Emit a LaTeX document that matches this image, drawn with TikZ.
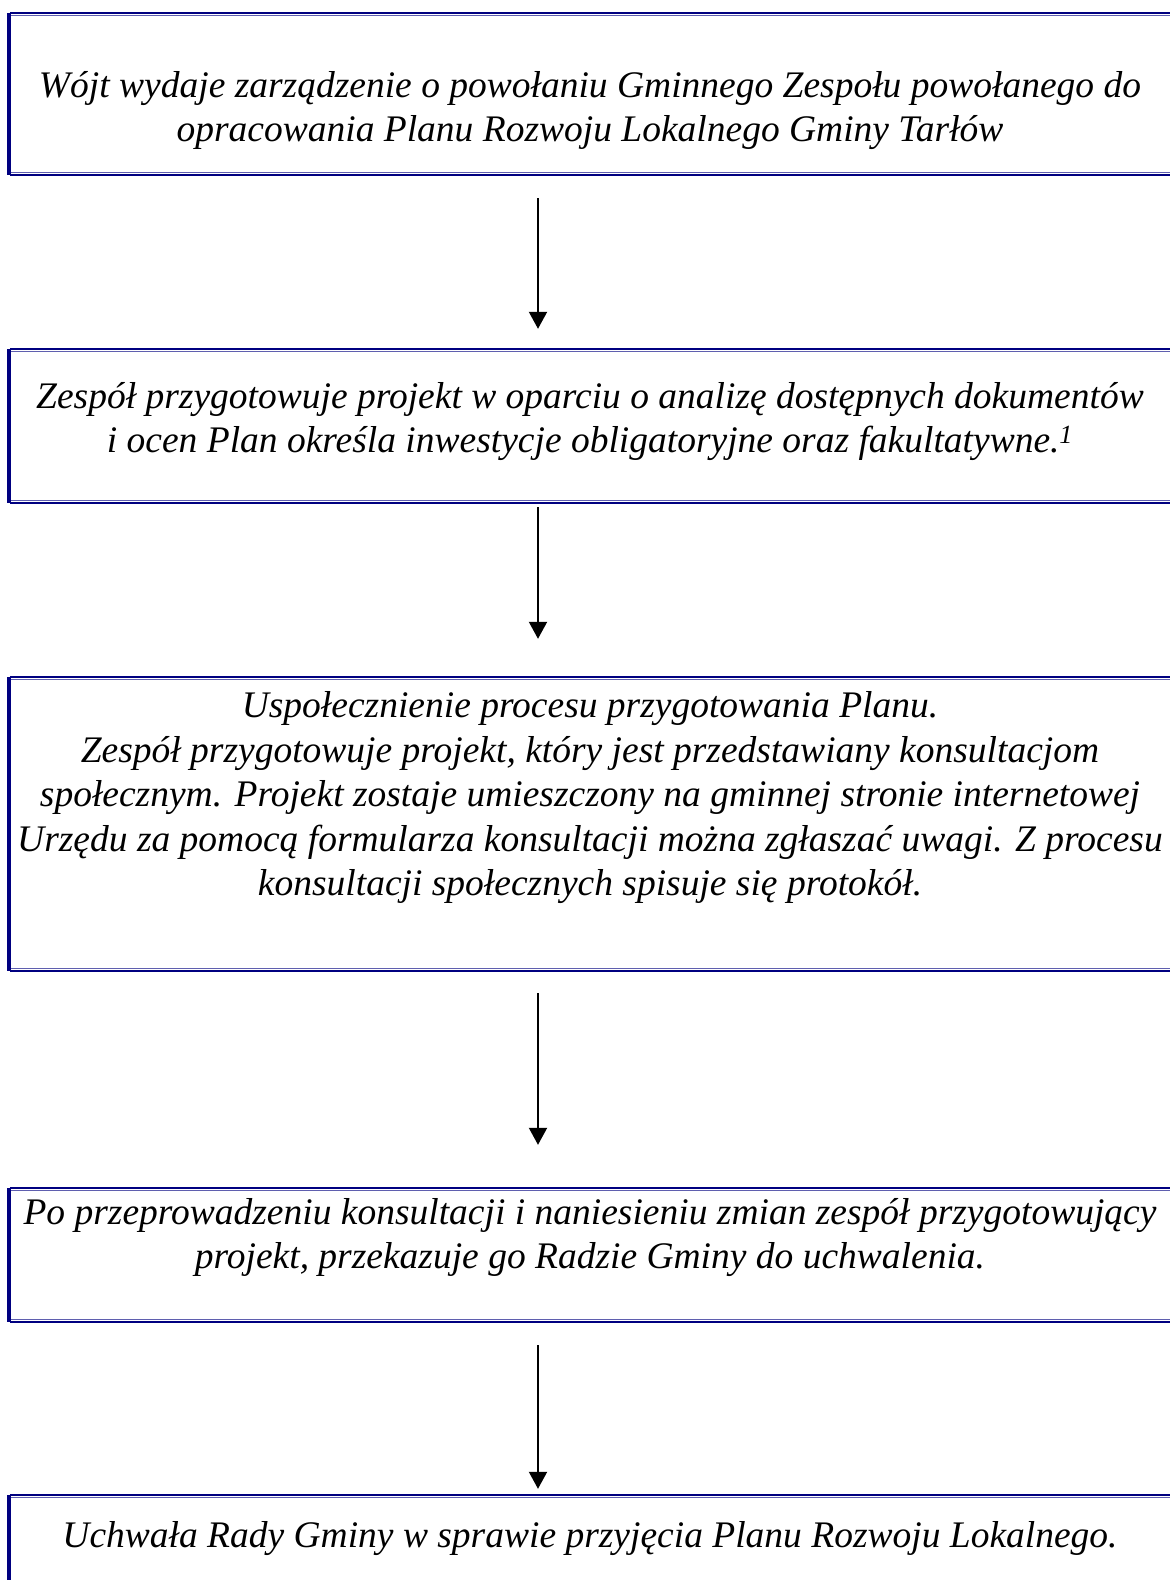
\documentclass[tikz,border=0pt]{standalone}
\usepackage{fontspec}
\setmainfont{Liberation Serif}
\usetikzlibrary{arrows.meta}
\definecolor{boxnavy}{RGB}{0,0,128}
\definecolor{boxlight}{RGB}{95,95,175}
\begin{document}
\begin{tikzpicture}[x=1pt,y=-1pt,
  boxarea/.style={rectangle,draw=none,inner sep=0pt,minimum width=1160pt},
  txt/.style={align=center,inner sep=0pt,font=\fontsize{37.5}{44.5}\selectfont\itshape},
  edgeleft/.style={draw=boxnavy,line width=3.5pt},
  edgeouter/.style={draw=boxnavy,line width=1.6pt},
  edgeinner/.style={draw=boxlight,line width=1.6pt},
  arr/.style={line width=2pt,-{Triangle[length=17pt,width=18pt]}}
]
\useasboundingbox (0,0) rectangle (1170,1580);
\fill[white] (0,0) rectangle (1170,1580);

% boxes (areas)
\node[boxarea,minimum height=162pt] (b1) at (590,94) {};
\node[boxarea,minimum height=154pt] (b2) at (590,426) {};
\node[boxarea,minimum height=294pt] (b3) at (590,824) {};
\node[boxarea,minimum height=134pt] (b4) at (590,1255) {};
\node[boxarea,minimum height=130pt] (b5) at (590,1560) {};

% borders
\foreach \b in {b1,b2,b3,b4}{
  \draw[edgeouter] (\b.north west) -- (\b.north east);
  \draw[edgeinner] ([yshift=-2.6pt]\b.north west) -- ([yshift=-2.6pt]\b.north east);
  \draw[edgeinner] ([yshift=2.6pt]\b.south west) -- ([yshift=2.6pt]\b.south east);
  \draw[edgeouter] (\b.south west) -- (\b.south east);
  \draw[edgeleft] ([xshift=-1pt]\b.north west) -- ([xshift=-1pt]\b.south west);
}
\draw[edgeouter] (b5.north west) -- (b5.north east);
\draw[edgeinner] ([yshift=-2.6pt]b5.north west) -- ([yshift=-2.6pt]b5.north east);
\draw[edgeleft] ([xshift=-1pt]b5.north west) -- ([xshift=-1pt]b5.south west);

% texts
\node[txt] (t1) at (590,110.5) {Wójt wydaje zarządzenie o powołaniu Gminnego Zespołu powołanego do\\opracowania Planu Rozwoju Lokalnego Gminy Tarłów};
\node[txt] (t2) at (590,421.5) {Zespół przygotowuje projekt w oparciu o analizę dostępnych dokumentów\\i ocen Plan określa inwestycje obligatoryjne oraz fakultatywne.\textsuperscript{1}};
\node[txt] (t3) at (590,798) {Uspołecznienie procesu przygotowania Planu.\\Zespół przygotowuje projekt, który jest przedstawiany konsultacjom\\społecznym. Projekt zostaje umieszczony na gminnej stronie internetowej\\Urzędu za pomocą formularza konsultacji można zgłaszać uwagi. Z procesu\\konsultacji społecznych spisuje się protokół.};
\node[txt] (t4) at (590,1237.5) {Po przeprowadzeniu konsultacji i naniesieniu zmian zespół przygotowujący\\projekt, przekazuje go Radzie Gminy do uchwalenia.};
\node[txt] (t5) at (590,1539) {Uchwała Rady Gminy w sprawie przyjęcia Planu Rozwoju Lokalnego.};

% arrows
\draw[arr] ([xshift=-52pt,yshift=-23pt]b1.south) -- ([xshift=-52pt,yshift=20pt]b2.north);
\draw[arr] ([xshift=-52pt,yshift=-4pt]b2.south) -- ([xshift=-52pt,yshift=38pt]b3.north);
\draw[arr] ([xshift=-52pt,yshift=-22pt]b3.south) -- ([xshift=-52pt,yshift=43pt]b4.north);
\draw[arr] ([xshift=-52pt,yshift=-23pt]b4.south) -- ([xshift=-52pt,yshift=6pt]b5.north);
\end{tikzpicture}
\end{document}
